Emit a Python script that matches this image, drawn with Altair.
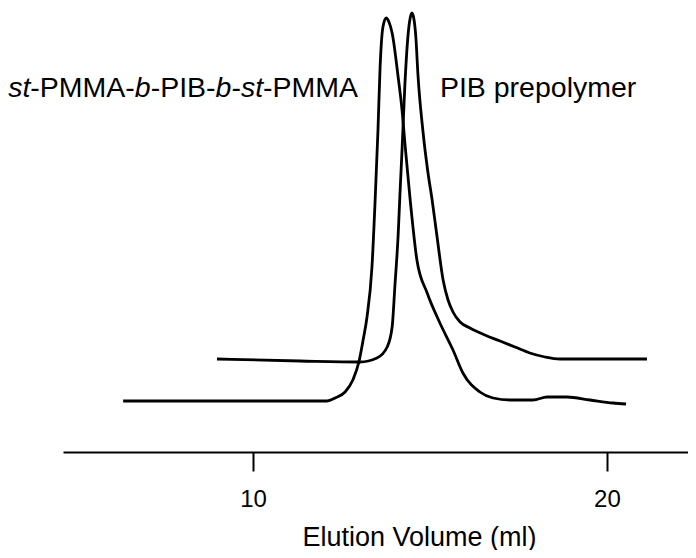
import altair as alt
import pandas as pd

# Block copolymer trace (st-PMMA-b-PIB-b-st-PMMA)
copolymer_volume = [6.33, 8.50, 11.33, 12.09, 12.32, 12.60, 12.82, 12.99, 13.11, 13.22,
                    13.36, 13.45, 13.53, 13.59, 13.67, 13.76, 13.84, 13.93, 14.10, 14.21,
                    14.29, 14.44, 14.63, 14.92, 15.28, 15.65, 15.93, 16.41, 16.78, 17.26,
                    17.91, 18.31, 18.87, 19.52, 20.17, 20.54]
copolymer_signal = [51, 51, 51, 51, 54, 60, 72, 90, 112, 135,
                    185, 252, 322, 385, 425, 434, 430, 419, 375, 342,
                    309, 252, 192, 159, 129, 102, 79, 60, 54, 52,
                    52, 55, 55, 52, 49, 48]

# PIB prepolymer trace
prepolymer_volume = [8.98, 11.33, 13.02, 13.50, 13.79, 13.93, 14.01, 14.10, 14.15, 14.21,
                     14.29, 14.38, 14.44, 14.49, 14.55, 14.60, 14.66, 14.80, 14.94, 15.06,
                     15.20, 15.37, 15.51, 15.65, 15.85, 16.13, 16.55, 16.98, 17.40, 17.82,
                     18.25, 18.67, 21.13]
prepolymer_signal = [93, 91, 90, 94, 105, 125, 167, 217, 257, 302,
                     367, 417, 434, 439, 432, 415, 377, 321, 280, 252,
                     215, 172, 152, 140, 130, 124, 117, 111, 105, 99,
                     95, 93, 93]

x_ticks = [10, 20]
x_domain = [4.63, 22.29]
y_domain = [0, 444]

FONT = "Liberation Sans"
LABEL_SIZE = 28.5
PLOT_W = 625
PX_PER_UNIT = PLOT_W / (x_domain[1] - x_domain[0])

# label segments: (text, italic, em-width)
copolymer_label = [("st", True, 0.778), ("-PMMA-", False, 3.666), ("b", True, 0.556),
                   ("-PIB-", False, 2.278), ("b", True, 0.556), ("-", False, 0.333),
                   ("st", True, 0.778), ("-PMMA", False, 3.333)]
copolymer_label_x = 3.08
label_y = 355
prepolymer_label = "PIB prepolymer"
prepolymer_label_x = 15.28

df = pd.concat([
    pd.DataFrame({"volume": copolymer_volume, "signal": copolymer_signal,
                  "series": "st-PMMA-b-PIB-b-st-PMMA"}),
    pd.DataFrame({"volume": prepolymer_volume, "signal": prepolymer_signal,
                  "series": "PIB prepolymer"}),
])

rows = []
pos = 0.0
for text, italic, em in copolymer_label:
    rows.append({"volume": copolymer_label_x + pos / PX_PER_UNIT, "signal": label_y,
                 "text": text, "italic": italic})
    pos += em * LABEL_SIZE
rows.append({"volume": prepolymer_label_x, "signal": label_y, "text": prepolymer_label,
             "italic": False})
labels = pd.DataFrame(rows)

x_scale = alt.Scale(domain=x_domain, nice=False, zero=False)
y_scale = alt.Scale(domain=y_domain, nice=False, zero=False)
x_axis = alt.Axis(values=x_ticks, format="d", grid=False, title="Elution Volume (ml)",
                  labelFont=FONT, labelFontSize=24, labelColor="black", labelPadding=16,
                  tickColor="black", tickSize=19, tickWidth=2,
                  domainColor="black", domainWidth=2,
                  titleFont=FONT, titleFontSize=27, titleFontWeight="normal",
                  titleColor="black", titleX=356, titleY=93, titleAlign="center",
                  titleBaseline="alphabetic")


def xenc():
    return alt.X("volume:Q", scale=x_scale, axis=x_axis)


def yenc():
    return alt.Y("signal:Q", scale=y_scale, axis=None)


lines = alt.Chart(df).mark_line(color="black", strokeWidth=2.8, interpolate="monotone").encode(
    x=xenc(), y=yenc(), detail="series:N"
)

italic_text = alt.Chart(labels[labels["italic"]]).mark_text(
    align="left", baseline="alphabetic", font=FONT, fontSize=LABEL_SIZE,
    fontStyle="italic", color="black"
).encode(x=xenc(), y=yenc(), text="text:N")

normal_text = alt.Chart(labels[~labels["italic"]]).mark_text(
    align="left", baseline="alphabetic", font=FONT, fontSize=LABEL_SIZE,
    color="black"
).encode(x=xenc(), y=yenc(), text="text:N")

chart = alt.layer(lines, italic_text, normal_text).properties(
    width=PLOT_W, height=444,
    padding={"left": 55, "top": 0, "right": 0, "bottom": 98},
    autosize=alt.AutoSizeParams(type="none"),
    background="white",
).configure_view(stroke=None)

chart.save("out.html", embed_options={"renderer": "svg", "actions": False})
